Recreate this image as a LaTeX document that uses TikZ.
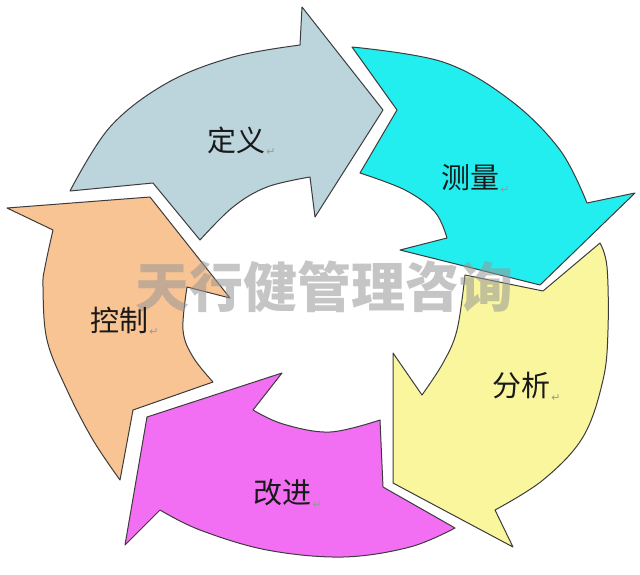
\documentclass[tikz,border=0pt]{standalone}
\usepackage{fontspec}
\newfontfamily\cjk{Noto Sans CJK SC}
\newfontfamily\dvs{DejaVu Sans}
\definecolor{cdef}{RGB}{188,212,220}
\definecolor{cmea}{RGB}{34,238,240}
\definecolor{cana}{RGB}{250,246,158}
\definecolor{cimp}{RGB}{242,110,242}
\definecolor{cctl}{RGB}{249,196,148}
\definecolor{edgec}{RGB}{60,60,60}
\definecolor{wmc}{RGB}{150,150,150}
\begin{document}
\begin{tikzpicture}[x=1pt,y=-1pt,
  arrowshape/.style={draw=edgec,line width=1pt,line join=round},
  lbl/.style={font=\cjk\fontsize{29}{29}\selectfont, text=black!90, inner sep=0pt},
  retmark/.style={font=\dvs\fontsize{11}{11}\selectfont, text=black!40, inner sep=0pt, anchor=south west, xshift=1pt, yshift=-2pt},
  wmark/.style={font=\cjk\bfseries\fontsize{54}{54}\selectfont, text=wmc, text opacity=0.55, inner sep=0pt}]
\useasboundingbox (0,0) rectangle (640,574);
\fill[white] (0,0) rectangle (640,574);

% define (blue)
\path[arrowshape, fill=cdef] (70,191) -- (153,183) -- (200,240)
  -- plot[smooth, tension=0.6] coordinates {(200,240) (233,207) (267,187) (310,177)}
  -- (315,217) -- (383,110) -- (302,7) -- (300,45)
  -- plot[smooth, tension=0.6] coordinates {(300,45) (233,57) (167,83) (110,127) (70,191)}
  -- cycle;

% measure (cyan)
\path[arrowshape, fill=cmea] (352,47) -- (397,110) -- (360,173)
  -- plot[smooth, tension=0.6] coordinates {(360,173) (405,190) (435,212) (447,238)}
  -- (400,250) -- (540,285) -- (635,193) -- (587,203)
  -- plot[smooth, tension=0.6] coordinates {(587,203) (560,150) (510,100) (443,62) (352,47)}
  -- cycle;

% analyse (yellow)
\path[arrowshape, fill=cana] (600,243) -- (543,291) -- (465,275)
  -- plot[smooth, tension=0.6] coordinates {(465,275) (457,330) (443,363) (422,395)}
  -- (393,353) -- (393,483) -- (513,547) -- (495,510)
  -- plot[smooth, tension=0.6] coordinates {(495,510) (543,480) (583,437) (603,380) (608,330) (607,267) (600,243)}
  -- cycle;

% improve (magenta)
\path[arrowshape, fill=cimp] (380,420) -- (383,487) -- (455,528)
  -- plot[smooth, tension=0.6] coordinates {(455,528) (410,547) (343,557) (267,550) (200,530) (160,510)}
  -- (125,545) -- (147,417) -- (282,373) -- (253,410)
  -- plot[smooth, tension=0.6] coordinates {(253,410) (283,424) (330,432) (380,420)}
  -- cycle;

% control (orange)
\path[arrowshape, fill=cctl] (120,480) -- (133,410) -- (213,382)
  -- plot[smooth, tension=0.6] coordinates {(213,382) (193,357) (183,330) (187,287)}
  -- (230,298) -- (150,197) -- (7,208) -- (53,230)
  -- plot[smooth, tension=0.6] coordinates {(53,230) (45,267) (43,287) (47,340) (67,390) (93,440) (120,480)}
  -- cycle;

% watermark
\node[wmark] (wm) at (324,287) {天行健管理咨询};

% labels
\node[lbl] (ldef) at (236,140) {定义};
\node[lbl] (lmea) at (470,178) {测量};
\node[lbl] (lana) at (521,386) {分析};
\node[lbl] (limp) at (282,493) {改进};
\node[lbl] (lctl) at (119,320) {控制};
\node[retmark] (rdef) at (ldef.south east) {↵};
\node[retmark] (rmea) at (lmea.south east) {↵};
\node[retmark] (rana) at (lana.south east) {↵};
\node[retmark] (rimp) at (limp.south east) {↵};
\node[retmark] (rctl) at (lctl.south east) {↵};
\end{tikzpicture}
\end{document}
